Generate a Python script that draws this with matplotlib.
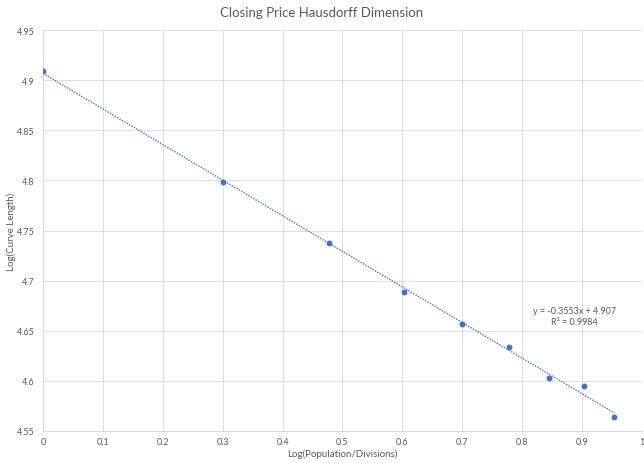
import numpy as np
import matplotlib.pyplot as plt

plt.rcParams['font.family'] = ['Lato', 'DejaVu Sans']

log_div = [0.0, 0.301, 0.477, 0.602, 0.699, 0.778, 0.845, 0.903, 0.954]
log_len = [4.909, 4.798, 4.738, 4.689, 4.657, 4.634, 4.603, 4.595, 4.564]
x_ticks = [0, 0.1, 0.2, 0.3, 0.4, 0.5, 0.6, 0.7, 0.8, 0.9, 1]
y_ticks = [4.55, 4.6, 4.65, 4.7, 4.75, 4.8, 4.85, 4.9, 4.95]

blue = '#4472C4'
grey = '#595959'

fig = plt.figure(figsize=(6.44, 4.64), dpi=100)
ax = fig.add_axes([0.0668, 0.069, 0.930, 0.864])

# linear trendline
slope, icpt = np.polyfit(log_div, log_len, 1)
xs = np.array([log_div[0], log_div[-1]])
ax.plot(xs, slope * xs + icpt, color=blue, lw=1.0, ls=(0, (1, 1)), zorder=2)
ax.scatter(log_div, log_len, s=18, color=blue, zorder=3, linewidths=0)

ax.set_xlim(0, 1)
ax.set_ylim(4.55, 4.95)
ax.set_xticks(x_ticks)
ax.set_xticklabels([f'{v:g}' for v in x_ticks])
ax.set_yticks(y_ticks)
ax.set_yticklabels([f'{v:g}' for v in y_ticks])
ax.grid(True, color='#dedede', lw=0.7)
ax.set_axisbelow(True)
for s in ['top', 'right']:
    ax.spines[s].set_visible(False)
ax.spines['left'].set_color('#d9d9d9')
ax.spines['bottom'].set_color('#d9d9d9')
ax.tick_params(axis='x', length=0, labelsize=6.5, colors=grey, pad=4)
ax.tick_params(axis='y', length=0, labelsize=6.5, colors=grey, pad=6)

ax.set_xlabel('Log(Population/Divisions)', fontsize=7, color=grey, labelpad=2)
ax.set_ylabel('Log(Curve Length)', fontsize=7, color=grey, labelpad=1)
fig.suptitle('Closing Price Hausdorff Dimension', fontsize=9.5, color=grey, y=0.985)

ax.text(0.888, 4.670, 'y = -0.3553x + 4.907', fontsize=6.5, color=grey, ha='center', va='center')
ax.text(0.888, 4.659, 'R² = 0.9984', fontsize=6.5, color=grey, ha='center', va='center')

fig.savefig('out.png', dpi=100)
